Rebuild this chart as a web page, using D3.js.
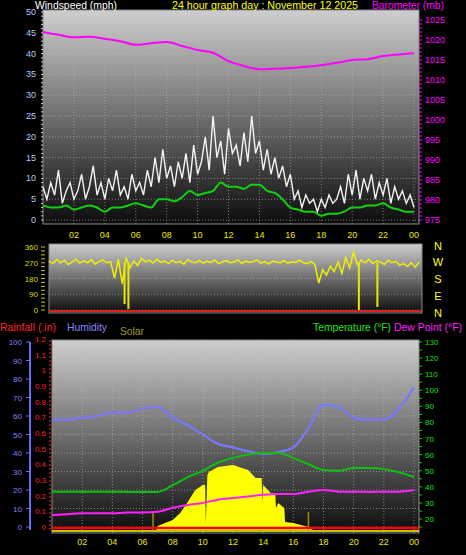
<!DOCTYPE html><html><head><meta charset="utf-8">
<script src="https://cdn.jsdelivr.net/npm/d3@7"></script>
<style>body{margin:0;background:#000}svg{display:block}text{font-family:"Liberation Sans",Arial,sans-serif}</style></head><body>
<script>
const hourLabels=["02","04","06","08","10","12","14","16","18","20","22","00"];
const windAvg=[3.5,3,3,3.5,2.5,3,3.5,3,2,3,3,3.5,4,3.5,3,5,5,4.5,5.5,7,6,6.5,7,9,8,8,7.5,8.5,8.5,7,6.5,5,3,2.5,2,2,1,1.5,1.5,2,3,3,3.5,3.5,4,3,2.5,2,2];
const windGust=[8,5,9,6,12,4,7,9,5,7,11,5,8,13,6,9,5,10,7,12,6,8,5,11,7,9,6,12,8,15,9,17,10,13,8,14,10,16,9,18,11,14,20,12,25,15,19,11,22,16,18,13,21,14,25,16,19,12,17,11,15,10,13,8,11,5,7,3,6,4,5,2,5,3,6,4,5,8,4,11,6,12,5,10,7,11,5,9,6,10,4,8,5,7,4,6,3];
const baro=[1022,1021.3,1020.7,1020.8,1020.3,1019.7,1018.8,1019.2,1019.5,1018.5,1017.5,1016.8,1014.7,1013.5,1012.7,1012.8,1013,1013.3,1013.7,1014.3,1015,1015.2,1016,1016.4,1016.7];
const dir=[280,265,290,270,285,260,275,290,268,282,270,288,262,278,285,270,275,183,290,150,300,240,280,255,295,275,285,268,290,272,280,265,285,270,278,262,288,275,270,283,268,279,272,286,265,276,282,270,274,288,266,280,272,278,285,268,276,262,280,274,270,282,268,276,272,285,270,265,278,260,154,230,200,250,220,275,210,300,240,330,260,285,270,290,265,280,275,260,285,270,278,255,265,250,270,245,275];
const dirSpikes=[[4.9,34],[5.15,6],[20.1,0],[21.3,17]];
const humidity=[58,58,59,60,62,62,64,65,59,55,50,45,43,41,39.5,40.5,43,53.5,66,65,59,58,58,64,75.5];
const temp=[37,37,37,37,37,36.8,36.8,36.8,41,46,50,55,58,60,61,61,58,54,50.5,50,51.7,51.7,51,49,46];
const dew=[22.5,23,23.5,23.5,23.5,24,24,24.5,27,28.7,30,32,33,34,35,35.5,35.5,37,38,37,37,36.8,37,37,38];
const solar=[[6.9,0],[7,21],[8,53],[8.5,89],[9,147],[9.5,210],[10,237],[10.15,237],[10.2,42],[10.3,290],[10.4,305],[11,332],[12,342],[13,316],[13.5,274],[13.9,274],[13.95,142],[14,237],[14.5,195],[14.8,195],[14.85,116],[15,142],[15.4,116],[15.45,42],[16,37],[17,16],[17.3,0]];
const solarMarks=[6.7,17];
const W=466,H=555;
const svg=d3.select("body").append("svg").attr("width",W).attr("height",H);
const defs=svg.append("defs");
const g=defs.append("linearGradient").attr("id","bg").attr("x1",0).attr("y1",0).attr("x2",0).attr("y2",1);
g.append("stop").attr("offset","0").attr("stop-color","#cfcfcf");
g.append("stop").attr("offset","1").attr("stop-color","#0c0c0c");
function panel(x0,y0,x1,y1){svg.append("rect").attr("x",x0).attr("y",y0).attr("width",x1-x0).attr("height",y1-y0).attr("fill","url(#bg)").attr("stroke","#888").attr("stroke-width",1);}
function grid(xs,ys,x0,x1,y0,y1){
 xs.forEach(x=>svg.append("line").attr("x1",x).attr("x2",x).attr("y1",y0).attr("y2",y1).attr("stroke","#bbb").attr("stroke-dasharray","1,2").attr("opacity",0.6));
 ys.forEach(y=>svg.append("line").attr("x1",x0).attr("x2",x1).attr("y1",y).attr("y2",y).attr("stroke","#bbb").attr("stroke-dasharray","1,2").attr("opacity",0.6));}
function txt(x,y,s,c,sz,anchor){return svg.append("text").attr("x",x).attr("y",y).text(s).attr("fill",c).attr("font-size",sz).attr("text-anchor",anchor||"start");}
function htxt(x,y,s,c,len){return txt(x,y,s,c,11).attr("textLength",len).attr("lengthAdjust","spacingAndGlyphs");}
const hrs=d3.range(2,25,2);
// TOP PANEL
const x1=d3.scaleLinear().domain([0,24]).range([43,414]);
const yW=d3.scaleLinear().domain([0,50]).range([220,12]);
const yB=d3.scaleLinear().domain([975,1025]).range([220,20]);
panel(43,10,419,224);
grid(hrs.map(x1),d3.range(0,51,5).map(yW),43,419,10,224);
d3.range(0,51,5).forEach(v=>txt(36,yW(v)+3,v,"#b8c8ff",9,"end"));
d3.range(0,51,1).forEach(v=>svg.append("line").attr("x1",41).attr("x2",43).attr("y1",yW(v)).attr("y2",yW(v)).attr("stroke","#ccc"));
d3.range(975,1026,5).forEach(v=>txt(425,yB(v)+3,v,"#ff00ff",9));
d3.range(975,1026,1).forEach(v=>svg.append("line").attr("x1",419).attr("x2",422).attr("y1",yB(v)).attr("y2",yB(v)).attr("stroke","#f0f"));
hrs.forEach((h,i)=>txt(x1(h),238,hourLabels[i],"#e8e800",9,"middle"));
svg.append("path").datum(windGust).attr("d",d3.line().x((d,i)=>x1(i/4)).y(d=>yW(d))).attr("fill","none").attr("stroke","#f4f4f4").attr("stroke-width",1.4);
svg.append("path").datum(windAvg).attr("d",d3.line().x((d,i)=>x1(i/2)).y(d=>yW(d)).curve(d3.curveMonotoneX)).attr("fill","none").attr("stroke","#10d010").attr("stroke-width",2);
svg.append("path").datum(baro).attr("d",d3.line().x((d,i)=>x1(i)).y(d=>yB(d)).curve(d3.curveMonotoneX)).attr("fill","none").attr("stroke","#ff00ff").attr("stroke-width",2);
htxt(35,9,"Windspeed (mph)","#fff",82);
htxt(172,9,"24 hour graph day : November 12 2025","#ffff00",186);
htxt(372,9,"Barometer (mb)","#ff00ff",72);
// DIRECTION PANEL
const x2=d3.scaleLinear().domain([0,24]).range([49,419]);
const yD=d3.scaleLinear().domain([0,360]).range([310,247]);
panel(49,244,422,313);
grid([],[0,90,180,270,360].map(yD),49,422,0,0);
[0,90,180,270,360].forEach(v=>txt(38,yD(v)+3,v,"#d8d800",8,"end"));
d3.range(0,361,22.5).forEach(v=>svg.append("line").attr("x1",41).attr("x2",45).attr("y1",yD(v)).attr("y2",yD(v)).attr("stroke","#c8c800"));
svg.append("path").datum(dir).attr("d",d3.line().x((d,i)=>x2(i/4)).y(d=>yD(d))).attr("fill","none").attr("stroke","#f0f000").attr("stroke-width",1.5);
dirSpikes.forEach(s=>svg.append("line").attr("x1",x2(s[0])).attr("x2",x2(s[0])).attr("y1",yD(270)).attr("y2",yD(s[1])).attr("stroke","#e8e800").attr("stroke-width",2));
svg.append("line").attr("x1",49).attr("x2",422).attr("y1",311).attr("y2",311).attr("stroke","#e02020").attr("stroke-width",2);
["N","W","S","E","N"].forEach((c,i)=>txt(438,[250,266,283,300,317][i],c,"#ffff00",11,"middle"));
// BOTTOM PANEL
const x3=d3.scaleLinear().domain([0,24]).range([52,414]);
const yH=d3.scaleLinear().domain([0,100]).range([527,342]);
const yR=d3.scaleLinear().domain([0,1.2]).range([527,339]);
const yT=d3.scaleLinear().domain([20,130]).range([519,342]);
const yS=d3.scaleLinear().domain([0,1000]).range([530,340]);
panel(52,340,419,533);
grid(hrs.map(x3),d3.range(0,101,10).map(yH),52,419,340,533);
d3.range(0,101,10).forEach(v=>txt(22,yH(v)+3,v,"#8080ff",8,"end"));
svg.append("line").attr("x1",30).attr("x2",30).attr("y1",342).attr("y2",530).attr("stroke","#6a6aff").attr("stroke-width",2);
d3.range(0,101,10).forEach(v=>svg.append("line").attr("x1",26).attr("x2",30).attr("y1",yH(v)).attr("y2",yH(v)).attr("stroke","#6a6aff"));
d3.range(0,1.21,0.1).forEach(v=>txt(46,yR(v)+3,+v.toFixed(1),"#ff2020",8,"end"));
svg.append("line").attr("x1",50).attr("x2",50).attr("y1",340).attr("y2",530).attr("stroke","#ff3030").attr("stroke-dasharray","2,2").attr("stroke-width",1);
d3.range(20,131,10).forEach(v=>txt(425,yT(v)+3,v,"#10e010",8));
d3.range(15,131,5).forEach(v=>svg.append("line").attr("x1",419).attr("x2",422).attr("y1",yT(v)).attr("y2",yT(v)).attr("stroke","#10d010"));
hrs.forEach((h,i)=>txt(x3(h),545,hourLabels[i],"#e8e800",9,"middle"));
svg.append("path").datum(solar).attr("d",d3.area().x(d=>x3(d[0])).y0(530).y1(d=>yS(d[1]))).attr("fill","#ffff00");
solarMarks.forEach(h=>svg.append("line").attr("x1",x3(h)).attr("x2",x3(h)).attr("y1",512).attr("y2",530).attr("stroke","#a09000").attr("stroke-width",1.5));
svg.append("path").datum(humidity).attr("d",d3.line().x((d,i)=>x3(i)).y(d=>yH(d)).curve(d3.curveMonotoneX)).attr("fill","none").attr("stroke","#7878ff").attr("stroke-width",2.2);
svg.append("path").datum(temp).attr("d",d3.line().x((d,i)=>x3(i)).y(d=>yT(d)).curve(d3.curveMonotoneX)).attr("fill","none").attr("stroke","#10c010").attr("stroke-width",2);
svg.append("path").datum(dew).attr("d",d3.line().x((d,i)=>x3(i)).y(d=>yT(d)).curve(d3.curveMonotoneX)).attr("fill","none").attr("stroke","#ff20ff").attr("stroke-width",2);
svg.append("line").attr("x1",52).attr("x2",419).attr("y1",yR(0)+1).attr("y2",yR(0)+1).attr("stroke","#ff0000").attr("stroke-width",2.5);
svg.append("line").attr("x1",52).attr("x2",419).attr("y1",531).attr("y2",531).attr("stroke","#ffff00").attr("stroke-width",1.5);
htxt(0,331,"Rainfall (.in)","#ff2020",56);
htxt(67,331,"Humidity","#8888ff",40);
htxt(120,335,"Solar","#a09a20",24);
htxt(313,331,"Temperature (°F)","#20e020",78);
htxt(394,331,"Dew Point (°F)","#ff20ff",68);
</script></body></html>
